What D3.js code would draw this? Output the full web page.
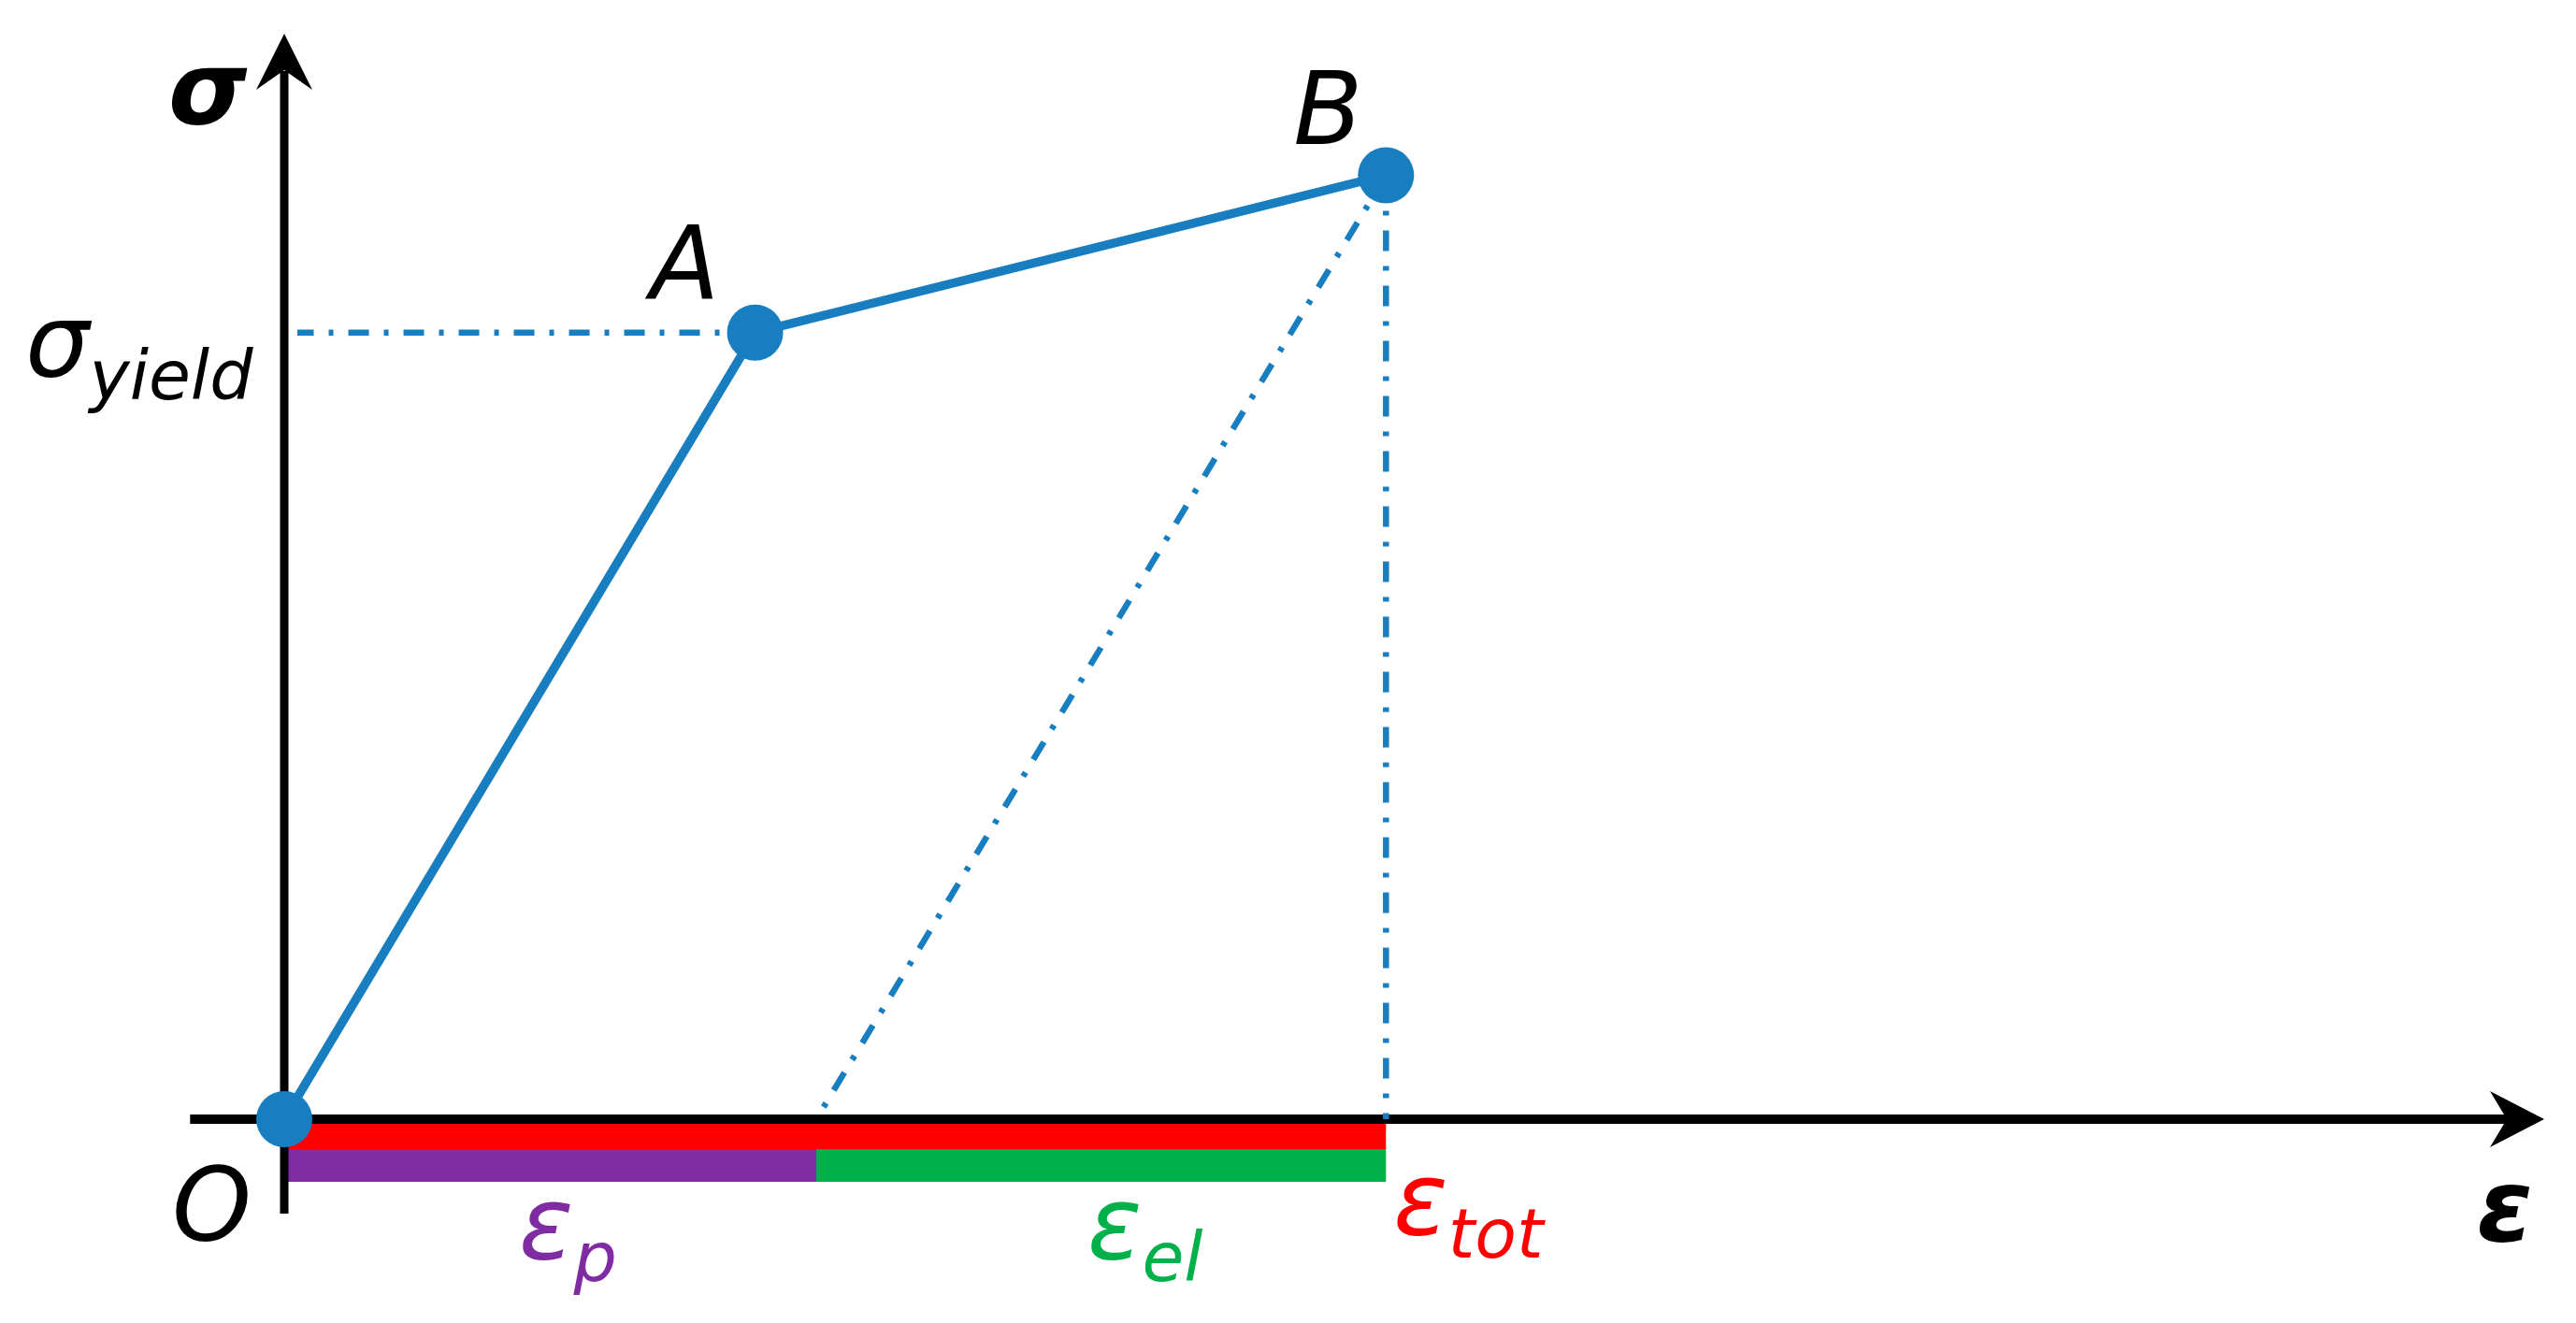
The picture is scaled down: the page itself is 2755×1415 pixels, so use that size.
<!DOCTYPE html>
<html>
<head>
<meta charset="utf-8">
<script src="https://cdn.jsdelivr.net/npm/d3@7"></script>
<style>
  body { margin: 0; background: #fff; }
  svg { display: block; }
</style>
</head>
<body>
<svg id="chart"></svg>
<script>
// key points of the stress-strain curve
const pointNames = ["O", "A", "B"];
const strainValues = [0, 1.0, 2.34];
const stressValues = [0, 1.0, 1.2];

// strain after unloading from B (parallel to OA)
const plasticStrain = 1.13;

// strain bars under the axis
const barNames = ["tot", "p", "el"];
const barStart = [0, 0, plasticStrain];
const barEnd = [2.34, plasticStrain, 2.34];
const barColors = ["#ff0000", "#7f2ba2", "#00b04a"];

const width = 2755;
const height = 1415;
const blue = "#187ec0";

const svg = d3.select("#chart")
  .attr("width", width)
  .attr("height", height)
  .attr("viewBox", `0 0 ${width} ${height}`);

const x = d3.scaleLinear().domain([0, 4.8]).range([304, 2721]);
const y = d3.scaleLinear().domain([0, 1.38]).range([1197, 36]);

const pts = pointNames.map((name, i) => ({ name, e: strainValues[i], s: stressValues[i] }));
const A = pts[1], B = pts[2];

const dashDot = "22,16,5,16";
const font = "'DejaVu Sans', sans-serif";

// strain bars (drawn first, axis line sits on top edge)
const bars = svg.append("g").attr("class", "bars");
bars.selectAll("rect")
  .data(barNames.map((n, i) => ({ n, a: barStart[i], b: barEnd[i], c: barColors[i], row: i === 0 ? 0 : 1 })))
  .join("rect")
  .attr("x", d => x(d.a))
  .attr("width", d => x(d.b) - x(d.a))
  .attr("y", d => y(0) + (d.row === 0 ? 5 : 32))
  .attr("height", d => d.row === 0 ? 27 : 35)
  .attr("fill", d => d.c);

// axes with notched arrowheads
const axes = svg.append("g").attr("class", "axes");
axes.append("line")
  .attr("x1", x(-0.2)).attr("x2", x(4.8) - 40)
  .attr("y1", y(0)).attr("y2", y(0))
  .attr("stroke", "#000").attr("stroke-width", 10);
axes.append("path")
  .attr("d", () => {
    const tx = x(4.8), ty = y(0);
    return `M${tx},${ty} L${tx - 58},${ty - 30} L${tx - 40},${ty} L${tx - 58},${ty + 30} Z`;
  })
  .attr("fill", "#000");
axes.append("line")
  .attr("x1", x(0)).attr("x2", x(0))
  .attr("y1", y(-0.12)).attr("y2", y(1.38) + 40)
  .attr("stroke", "#000").attr("stroke-width", 9);
axes.append("path")
  .attr("d", () => {
    const tx = x(0), ty = y(1.38);
    return `M${tx},${ty} L${tx - 30},${ty + 60} L${tx},${ty + 39} L${tx + 30},${ty + 60} Z`;
  })
  .attr("fill", "#000");

// guide lines (dash-dot), all drawn starting from the curve point
const guides = svg.append("g").attr("class", "guides")
  .attr("stroke", blue).attr("stroke-width", 6.5).attr("fill", "none")
  .attr("stroke-dasharray", dashDot);
guides.append("line")
  .attr("x1", x(A.e)).attr("y1", y(A.s))
  .attr("x2", x(0) + 14).attr("y2", y(A.s));
guides.append("line")
  .attr("x1", x(B.e)).attr("y1", y(B.s))
  .attr("x2", x(B.e)).attr("y2", y(0));
guides.append("line")
  .attr("x1", x(B.e)).attr("y1", y(B.s))
  .attr("x2", x(plasticStrain)).attr("y2", y(0));

// the curve O-A-B
svg.append("path")
  .datum(pts)
  .attr("d", d3.line().x(d => x(d.e)).y(d => y(d.s)))
  .attr("fill", "none")
  .attr("stroke", blue)
  .attr("stroke-width", 9.5)
  .attr("stroke-linejoin", "round");

svg.append("g").selectAll("circle")
  .data(pts)
  .join("circle")
  .attr("cx", d => x(d.e))
  .attr("cy", d => y(d.s))
  .attr("r", 30)
  .attr("fill", blue);

// labels
const labels = svg.append("g")
  .attr("font-family", font)
  .attr("font-style", "italic")
  .attr("font-size", 108);

function addLabel(px, py, main, sub, color, bold, subShift) {
  const t = labels.append("text")
    .attr("x", px).attr("y", py)
    .attr("fill", color)
    .attr("font-weight", bold ? "bold" : "normal");
  t.append("tspan").text(main);
  if (sub) {
    t.append("tspan").attr("font-size", 73).attr("dy", subShift).text(sub);
  }
  return t;
}

addLabel(x(0) - 124, y(1.38) + 96, "σ", null, "#000", true);
addLabel(x(4.8) - 72, y(0) + 130, "ε", null, "#000", true);
addLabel(x(A.e) - 112, y(A.s) - 37, "A", null, "#000");
addLabel(x(B.e) - 99, y(B.s) - 33, "B", null, "#000");
addLabel(x(0) - 120, y(0) + 129, "O", null, "#000");
addLabel(x(0) - 277, y(A.s) + 46, "σ", "yield", "#000", false, 25);
addLabel(x(plasticStrain) - 318, y(0) + 149, "ε", "p", barColors[1], false, 24);
addLabel(x(plasticStrain) + 290, y(0) + 149, "ε", "el", barColors[2], false, 24);
addLabel(x(B.e) + 8, y(0) + 123, "ε", "tot", barColors[0], false, 25);
</script>
</body>
</html>
